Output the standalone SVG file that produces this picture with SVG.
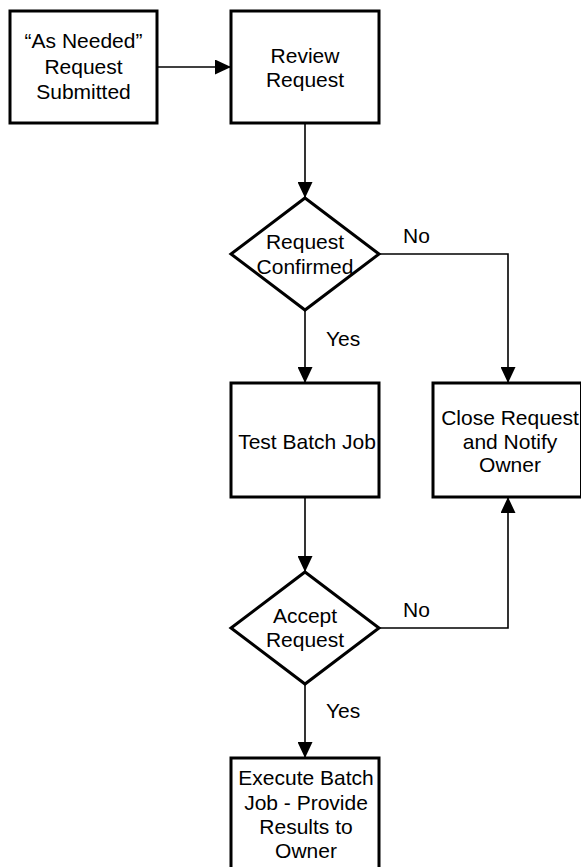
<svg xmlns="http://www.w3.org/2000/svg" width="581" height="867" viewBox="0 0 581 867">
  <defs>
    <marker id="arrow" viewBox="0 0 16 15" refX="16" refY="7.5" markerWidth="16" markerHeight="15" markerUnits="userSpaceOnUse" orient="auto">
      <path d="M0,0 L16,7.5 L0,15 Z" fill="#000"/>
    </marker>
    <style>
      .shape { fill: #fff; stroke: #000; stroke-width: 3; }
      .link { fill: none; stroke: #000; stroke-width: 1.6; marker-end: url(#arrow); }
      text { font-family: "Liberation Sans", Arial, sans-serif; font-size: 21px; fill: #000; }
      .c { text-anchor: middle; }
    </style>
  </defs>
  <rect width="581" height="867" fill="#fff"/>

  <!-- connectors -->
  <g id="connectors">
    <path class="link" d="M157,67 L231,67"/>
    <path class="link" d="M305,123 L305,198"/>
    <path class="link" d="M305,310 L305,383"/>
    <path class="link" d="M379,254 L508,254 L508,383"/>
    <path class="link" d="M305,497 L305,572"/>
    <path class="link" d="M379,628 L508,628 L508,497"/>
    <path class="link" d="M305,684 L305,758"/>
    <text x="403" y="243">No</text>
    <text x="326" y="346">Yes</text>
    <text x="403" y="617">No</text>
    <text x="326" y="718">Yes</text>
  </g>

  <g id="submitted">
    <rect class="shape" x="10" y="11" width="147" height="112"/>
    <text class="c" x="83.5" y="48">“As Needed”</text>
    <text class="c" x="83.5" y="74">Request</text>
    <text class="c" x="83.5" y="99">Submitted</text>
  </g>

  <g id="review">
    <rect class="shape" x="231" y="11" width="148" height="112"/>
    <text class="c" x="305" y="63">Review</text>
    <text class="c" x="305" y="87">Request</text>
  </g>

  <g id="confirmed">
    <path class="shape" d="M305,198 L379,254 L305,310 L231,254 Z"/>
    <text class="c" x="305" y="249">Request</text>
    <text class="c" x="305" y="274">Confirmed</text>
  </g>

  <g id="test">
    <rect class="shape" x="231" y="383" width="148" height="114"/>
    <text class="c" x="307" y="449">Test Batch Job</text>
  </g>

  <g id="close">
    <rect class="shape" x="433" y="383" width="148.5" height="114"/>
    <text class="c" x="510" y="425">Close Request</text>
    <text class="c" x="510" y="449">and Notify</text>
    <text class="c" x="510" y="472">Owner</text>
  </g>

  <g id="accept">
    <path class="shape" d="M305,572 L379,628 L305,684 L231,628 Z"/>
    <text class="c" x="305" y="623">Accept</text>
    <text class="c" x="305" y="647">Request</text>
  </g>

  <g id="execute">
    <rect class="shape" x="231" y="758" width="148" height="120"/>
    <text class="c" x="306" y="785">Execute Batch</text>
    <text class="c" x="306" y="810">Job - Provide</text>
    <text class="c" x="306" y="834">Results to</text>
    <text class="c" x="306" y="858">Owner</text>
  </g>
</svg>
